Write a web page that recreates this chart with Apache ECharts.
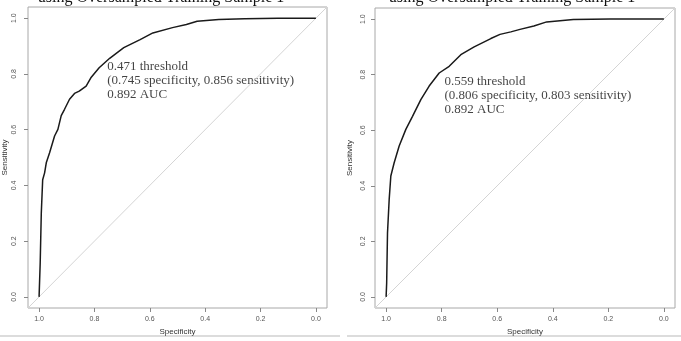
<!DOCTYPE html>
<html>
<head>
<meta charset="utf-8">
<title>ROC</title>
<script src="https://cdn.jsdelivr.net/npm/echarts@6/dist/echarts.min.js"></script>
<style>
html, body { margin: 0; padding: 0; background: #fff; }
#chart { width: 681px; height: 341px; }
</style>
</head>
<body>
<div id="chart"></div>
<script>
// titles (cut off at the top in the source image)
var panelTitles = ['using Oversampled Training Sample 1', 'using Oversampled Training Sample 1'];
var tickValues = [0, 0.2, 0.4, 0.6, 0.8, 1.0];

// left ROC curve
var leftSpec = [1.0, 0.997, 0.996, 0.992, 0.987, 0.98, 0.974, 0.962, 0.944, 0.932, 0.92, 0.908, 0.89, 0.872, 0.855, 0.83, 0.813, 0.783, 0.745, 0.694, 0.635, 0.589, 0.518, 0.468, 0.429, 0.351, 0.257, 0.137, 0.0];
var leftSens = [0.0, 0.0, 0.12, 0.30, 0.42, 0.445, 0.481, 0.517, 0.577, 0.601, 0.65, 0.673, 0.709, 0.73, 0.738, 0.756, 0.786, 0.822, 0.856, 0.894, 0.923, 0.947, 0.966, 0.977, 0.989, 0.995, 0.998, 1.0, 1.0];

// right ROC curve
var rightSpec = [1.0, 0.998, 0.995, 0.989, 0.983, 0.971, 0.953, 0.929, 0.905, 0.875, 0.845, 0.809, 0.773, 0.731, 0.683, 0.623, 0.59, 0.551, 0.518, 0.468, 0.422, 0.326, 0.194, 0.0];
var rightSens = [0.0, 0.05, 0.23, 0.35, 0.435, 0.483, 0.543, 0.603, 0.65, 0.71, 0.759, 0.806, 0.83, 0.872, 0.90, 0.93, 0.945, 0.954, 0.963, 0.975, 0.99, 0.999, 1.0, 1.0];

// best threshold annotations
var thresholds = ['0.471', '0.559'];
var thresSpec = [0.745, 0.806];
var thresSens = [0.856, 0.803];
var aucValues = ['0.892', '0.892'];

var axMin = -0.04, axMax = 1.04;
var grids = [
	{left: 24, top: 7, width: 303, height: 301},
	{left: 375, top: 8, width: 300, height: 300}
];
var titleCenters = [161, 512];
var labelOffsets = [[-2, 2], [5, 1]];

function zip(a, b) {
	var out = [];
	for (var i = 0; i < a.length; i++) out.push([a[i], b[i]]);
	return out;
}

var tickLabel = {
	fontFamily: 'Liberation Sans', fontSize: 7, color: '#555',
	customValues: tickValues,
	formatter: function (v) { return v.toFixed(1); }
};

var xAxes = [], yAxes = [], series = [], graphics = [];
var curves = [zip(leftSpec, leftSens), zip(rightSpec, rightSens)];

for (var p = 0; p < 2; p++) {
	xAxes.push({
		gridIndex: p, type: 'value', inverse: true, min: axMin, max: axMax,
		name: 'Specificity', nameLocation: 'middle', nameGap: 20,
		nameTextStyle: {fontFamily: 'Liberation Sans', fontSize: 8, color: '#333'},
		axisLine: {show: false, onZero: false},
		axisTick: {show: true, length: 4, customValues: tickValues, lineStyle: {color: '#888'}},
		axisLabel: Object.assign({margin: 8}, tickLabel),
		splitLine: {show: false}
	});
	yAxes.push({
		gridIndex: p, type: 'value', min: axMin, max: axMax,
		name: 'Sensitivity', nameLocation: 'middle', nameRotate: 90, nameGap: p == 0 ? 19 : 21,
		nameTextStyle: {fontFamily: 'Liberation Sans', fontSize: 8, color: '#333'},
		axisLine: {show: false, onZero: false},
		axisTick: {show: true, length: 4, customValues: tickValues, lineStyle: {color: '#888'}},
		axisLabel: Object.assign({margin: p == 0 ? 10 : 8, rotate: 90}, tickLabel),
		splitLine: {show: false}
	});
	// chance diagonal, sens = 1 - spec across the plot region
	series.push({
		type: 'line', xAxisIndex: p, yAxisIndex: p, silent: true, symbol: 'none',
		data: [[axMax, 1 - axMax], [axMin, 1 - axMin]],
		lineStyle: {color: '#d4d4d4', width: 1}
	});
	series.push({
		type: 'line', xAxisIndex: p, yAxisIndex: p, symbol: 'none',
		data: curves[p],
		lineStyle: {color: '#1a1a1a', width: 1.5}
	});
	series.push({
		type: 'scatter', xAxisIndex: p, yAxisIndex: p, symbolSize: 1,
		itemStyle: {color: 'rgba(0,0,0,0)'},
		data: [[thresSpec[p], thresSens[p]]],
		label: {
			show: true, position: labelOffsets[p], align: 'left', verticalAlign: 'top',
			fontFamily: 'Liberation Serif', fontSize: 13, lineHeight: 14, color: '#111',
			formatter: thresholds[p] + ' threshold\n(' + thresSpec[p].toFixed(3) + ' specificity, ' +
				thresSens[p].toFixed(3) + ' sensitivity)\n' + aucValues[p] + ' AUC'
		}
	});
	graphics.push({
		type: 'text', x: titleCenters[p], y: 5.5,
		style: {text: panelTitles[p], align: 'center', verticalAlign: 'bottom',
			font: '16px "Liberation Serif"', fill: '#111'}
	});
}

// frame lines under each panel
graphics.push({type: 'line', shape: {x1: 0, y1: 336, x2: 340, y2: 336}, style: {stroke: '#dcdcdc', lineWidth: 2}});
graphics.push({type: 'line', shape: {x1: 347, y1: 336, x2: 681, y2: 336}, style: {stroke: '#dcdcdc', lineWidth: 2}});

var chart = echarts.init(document.getElementById('chart'));
chart.setOption({
	animation: false,
	backgroundColor: '#fff',
	grid: grids.map(function (g) {
		return Object.assign({show: true, borderColor: '#a8a8a8', borderWidth: 1}, g);
	}),
	xAxis: xAxes,
	yAxis: yAxes,
	series: series,
	graphic: graphics
});
</script>
</body>
</html>
